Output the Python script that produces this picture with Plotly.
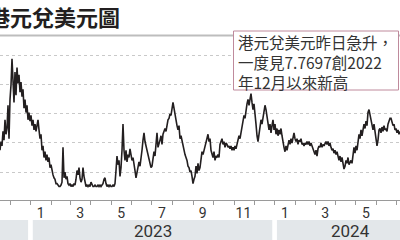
import pandas as pd
import plotly.graph_objects as go

start_date = "2022-11-16"
end_date = "2024-07-06"
usd_hkd = [
    7.825, 7.819, 7.822, 7.812, 7.818, 7.804, 7.814, 7.810, 7.794, 7.817,
    7.790, 7.780, 7.762, 7.777, 7.792, 7.771, 7.787, 7.768, 7.779, 7.773,
    7.785, 7.778, 7.788, 7.783, 7.796, 7.790, 7.799, 7.794, 7.804, 7.799,
    7.805, 7.801, 7.808, 7.804, 7.811, 7.807, 7.812, 7.808, 7.804, 7.811,
    7.817, 7.814, 7.825, 7.822, 7.830, 7.826, 7.832, 7.828, 7.833, 7.830,
    7.837, 7.835, 7.840, 7.842, 7.844, 7.845, 7.848, 7.848, 7.849, 7.850,
    7.850, 7.849, 7.847, 7.823, 7.844, 7.840, 7.845, 7.843, 7.848, 7.849,
    7.848, 7.850, 7.849, 7.850, 7.848, 7.849, 7.845, 7.839, 7.842, 7.837,
    7.844, 7.847, 7.845, 7.837, 7.843, 7.848, 7.850, 7.849, 7.850, 7.849,
    7.850, 7.847, 7.849, 7.850, 7.850, 7.849, 7.850, 7.850, 7.849, 7.850,
    7.849, 7.850, 7.849, 7.848, 7.845, 7.844, 7.848, 7.850, 7.849, 7.850,
    7.849, 7.850, 7.850, 7.849, 7.850, 7.848, 7.839, 7.829, 7.835, 7.832,
    7.843, 7.837, 7.825, 7.807, 7.825, 7.832, 7.825, 7.833, 7.828, 7.830,
    7.824, 7.829, 7.832, 7.830, 7.837, 7.839, 7.844, 7.840, 7.836, 7.833,
    7.836, 7.832, 7.825, 7.818, 7.813, 7.819, 7.822, 7.825, 7.829, 7.831,
    7.834, 7.837, 7.836, 7.830, 7.826, 7.829, 7.821, 7.813, 7.823, 7.819,
    7.818, 7.815, 7.821, 7.814, 7.811, 7.810, 7.812, 7.807, 7.804, 7.803,
    7.800, 7.801, 7.794, 7.792, 7.796, 7.799, 7.804, 7.808, 7.811, 7.808,
    7.817, 7.815, 7.819, 7.822, 7.825, 7.828, 7.830, 7.832, 7.836, 7.837,
    7.840, 7.839, 7.843, 7.848, 7.845, 7.843, 7.836, 7.841, 7.834, 7.839,
    7.837, 7.830, 7.826, 7.828, 7.825, 7.822, 7.818, 7.815, 7.814, 7.819,
    7.817, 7.825, 7.828, 7.830, 7.826, 7.832, 7.829, 7.830, 7.828, 7.830,
    7.821, 7.818, 7.817, 7.821, 7.819, 7.823, 7.820, 7.821, 7.823, 7.822,
    7.824, 7.822, 7.825, 7.823, 7.825, 7.822, 7.824, 7.821, 7.817, 7.815,
    7.817, 7.813, 7.810, 7.805, 7.801, 7.803, 7.796, 7.793, 7.790, 7.794,
    7.790, 7.786, 7.792, 7.797, 7.793, 7.803, 7.807, 7.815, 7.819, 7.814,
    7.808, 7.804, 7.807, 7.803, 7.799, 7.794, 7.797, 7.803, 7.808, 7.811,
    7.807, 7.813, 7.808, 7.804, 7.811, 7.807, 7.814, 7.810, 7.815, 7.811,
    7.814, 7.810, 7.815, 7.820, 7.823, 7.826, 7.822, 7.825, 7.821, 7.818,
    7.821, 7.817, 7.820, 7.817, 7.813, 7.817, 7.819, 7.817, 7.821, 7.818,
    7.819, 7.817, 7.821, 7.820, 7.822, 7.820, 7.821, 7.819, 7.821, 7.819,
    7.822, 7.820, 7.822, 7.825, 7.826, 7.828, 7.825, 7.829, 7.824, 7.822,
    7.823, 7.820, 7.823, 7.821, 7.822, 7.820, 7.819, 7.821, 7.819, 7.822,
    7.820, 7.823, 7.825, 7.824, 7.827, 7.825, 7.828, 7.826, 7.830, 7.832,
    7.829, 7.833, 7.830, 7.835, 7.838, 7.836, 7.832, 7.834, 7.830, 7.835,
    7.833, 7.832, 7.834, 7.826, 7.823, 7.827, 7.822, 7.825, 7.817, 7.814,
    7.817, 7.811, 7.815, 7.810, 7.807, 7.810, 7.805, 7.808, 7.799, 7.797,
    7.801, 7.805, 7.808, 7.811, 7.807, 7.813, 7.817, 7.822, 7.818, 7.811,
    7.810, 7.813, 7.809, 7.812, 7.808, 7.811, 7.810, 7.812, 7.807, 7.805,
    7.803, 7.803, 7.805, 7.808, 7.807, 7.811, 7.810, 7.813, 7.811, 7.814,
    7.812,
]
dates = pd.date_range(start_date, end_date, periods=len(usd_hkd))

grid_values = [7.76, 7.78, 7.80, 7.82, 7.84]

month_label_dates = ["2022-11-15", "2023-01-16", "2023-03-16", "2023-05-16",
                     "2023-07-16", "2023-09-15", "2023-11-15", "2024-01-16",
                     "2024-03-16", "2024-05-16", "2024-07-16"]
month_labels = ["11", "1", "3", "5", "7", "9", "11", "1", "3", "5", "7"]

year_labels = ["2022", "2023", "2024"]
year_band_start = ["2022-01-04", "2023-01-04", "2024-01-04"]
year_band_end = ["2022-12-28", "2023-12-28", "2024-08-10"]

title_text = "港元兌美元圖"
note_lines = ["港元兌美元昨日急升，", "一度見7.7697創2022", "年12月以來新高"]

# ---- figure ----
W, H = 400, 240
T, B = 40, 40
PH = H - T - B


def py(pix):
    """pixel row -> paper y"""
    return (H - B - pix) / PH


fig = go.Figure()
fig.add_trace(go.Scatter(
    x=dates, y=usd_hkd, mode="lines",
    line=dict(color="#231f20", width=1.6),
    hoverinfo="skip", showlegend=False,
))

shapes = []
annotations = []

# year bands
for lab, s, e in zip(year_labels, year_band_start, year_band_end):
    shapes.append(dict(type="rect", xref="x", yref="paper",
                       x0=s, x1=e, y0=py(241), y1=py(220),
                       fillcolor="#e3e7ea", line=dict(width=0), layer="below"))
    mid = pd.Timestamp(s) + (pd.Timestamp(e) - pd.Timestamp(s)) / 2
    annotations.append(dict(xref="x", yref="paper", x=mid, y=py(230.5),
                            text=lab, showarrow=False, xanchor="center",
                            yanchor="middle",
                            font=dict(size=17, color="#333333",
                                      family="Roboto, Noto Sans, sans-serif")))

# title rule
shapes.append(dict(type="line", xref="paper", yref="paper",
                   x0=0, x1=1, y0=py(35.5), y1=py(35.5),
                   line=dict(color="#bdbdbd", width=2)))

# note box
shapes.append(dict(type="rect", xref="paper", yref="paper",
                   x0=233.5 / W, x1=398.5 / W, y0=py(90), y1=py(31),
                   fillcolor="white", line=dict(color="#bf8a9c", width=1),
                   layer="above"))
annotations.append(dict(xref="paper", yref="paper", x=236 / W,
                        y=py(62), text="<br>".join(note_lines),
                        showarrow=False, align="left",
                        xanchor="left", yanchor="middle",
                        font=dict(size=15.5, color="#333333",
                                  family="Noto Sans CJK TC")))

# title
annotations.append(dict(xref="paper", yref="paper", x=0, y=py(16),
                        xshift=-14, text="<b>" + title_text + "</b>",
                        showarrow=False, xanchor="left", yanchor="middle",
                        font=dict(size=22, color="#231f20",
                                  family="Noto Sans CJK TC")))

fig.update_layout(
    width=W, height=H,
    margin=dict(l=0, r=0, t=T, b=B, pad=0),
    paper_bgcolor="white", plot_bgcolor="white",
    showlegend=False,
    shapes=shapes, annotations=annotations,
    xaxis=dict(
        type="date", range=[dates[0], dates[-1]],
        tickmode="array", tickvals=month_label_dates, ticktext=month_labels,
        ticks="", showgrid=False, zeroline=False,
        showline=True, linecolor="#9a9a9a", linewidth=1,
        tickfont=dict(size=14, color="#333333",
                      family="Roboto, Noto Sans, sans-serif"),
        minor=dict(ticks="outside", ticklen=4, tickcolor="#9a9a9a",
                   tickwidth=1, tickmode="linear", dtick="M1",
                   tick0="2022-11-01", showgrid=False),
    ),
    yaxis=dict(
        range=[7.8593, 7.749], tickmode="array", tickvals=grid_values,
        showticklabels=False, ticks="", zeroline=False,
        showgrid=True, gridcolor="#c9c9c9", gridwidth=1, griddash="dot",
    ),
)

fig.write_html("out.html")
